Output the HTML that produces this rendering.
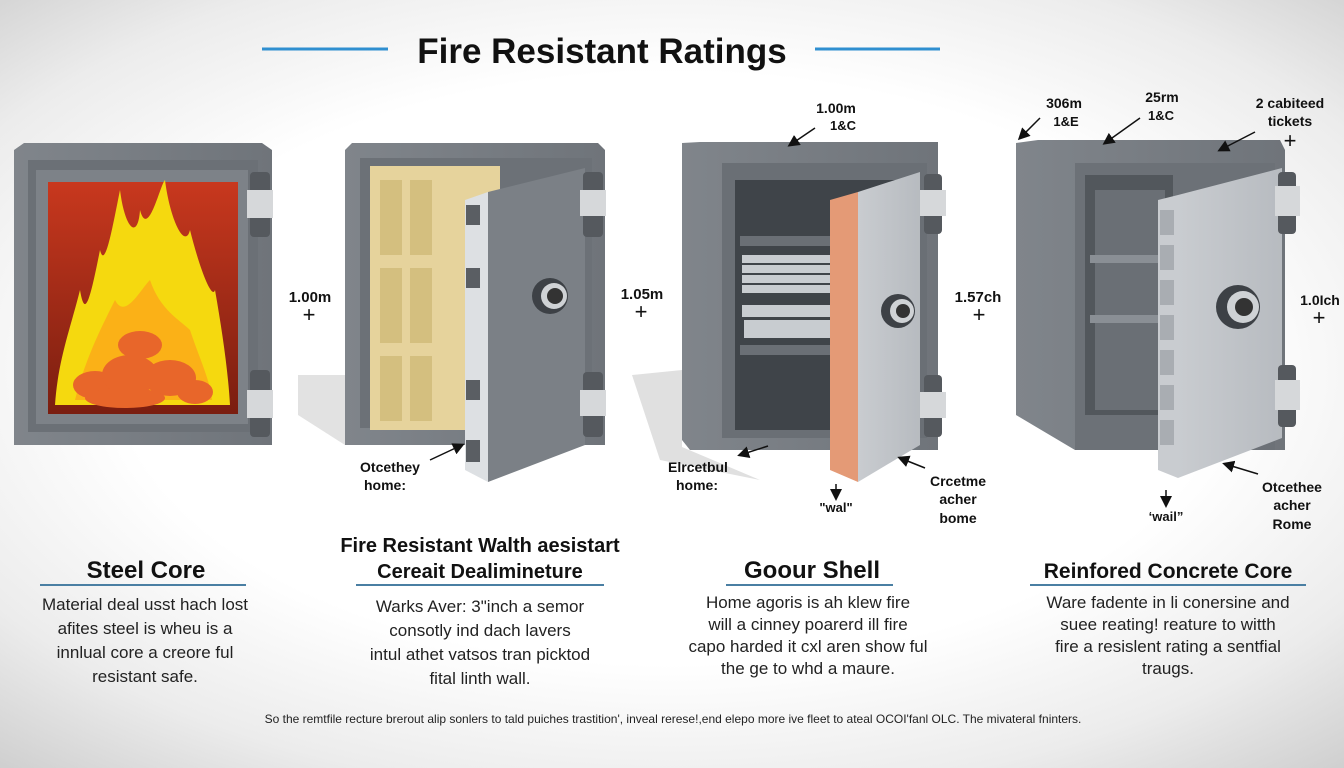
<!DOCTYPE html>
<html><head><meta charset="utf-8"><style>
html,body{margin:0;padding:0;width:1344px;height:768px;overflow:hidden}
body{background:radial-gradient(ellipse 75% 70% at 50% 48%,#ffffff 55%,#ececec 80%,#cfcfcf 100%);font-family:"Liberation Sans",sans-serif}
svg{position:absolute;left:0;top:0}
</style></head><body>
<svg width="1344" height="768" viewBox="0 0 1344 768" font-family="Liberation Sans, sans-serif">
<defs>
<linearGradient id="fire" x1="0" y1="0" x2="0" y2="1"><stop offset="0" stop-color="#c8381e"/><stop offset="1" stop-color="#7a1e10"/></linearGradient>
<linearGradient id="body" x1="0" y1="0" x2="1" y2="0"><stop offset="0" stop-color="#80858b"/><stop offset="1" stop-color="#6f747a"/></linearGradient>
<linearGradient id="door" x1="0" y1="0" x2="1" y2="0"><stop offset="0" stop-color="#c9ccd0"/><stop offset="1" stop-color="#b7bbc0"/></linearGradient>
<marker id="ah" markerWidth="8" markerHeight="8" refX="6" refY="4" orient="auto"><path d="M0,0 L8,4 L0,8 Z" fill="#111"/></marker>
</defs>
<!-- title -->
<line x1="262" y1="49" x2="388" y2="49" stroke="#2f8fd0" stroke-width="3"/>
<line x1="815" y1="49" x2="940" y2="49" stroke="#2f8fd0" stroke-width="3"/>
<text x="602" y="63" text-anchor="middle" font-size="35" font-weight="bold" fill="#111">Fire Resistant Ratings</text>

<!-- safe 1 -->
<polygon points="14,150 24,143 262,143 272,150 272,445 14,445" fill="url(#body)"/>
<rect x="28" y="160" width="230" height="272" fill="#6b7076"/>
<rect x="36" y="170" width="212" height="254" fill="#7d8288"/>
<rect x="48" y="182" width="190" height="232" fill="url(#fire)"/>
<path d="M55,405 C58,360 70,330 80,290 C85,320 90,300 100,250 C105,270 112,230 120,190 C125,230 138,240 140,210 C148,240 160,185 165,180 C170,220 185,250 190,230 C200,270 212,300 215,290 C222,330 228,370 230,405 Z" fill="#f5d90f"/>
<path d="M75,400 C85,360 100,330 115,300 C125,320 140,290 150,280 C160,310 180,320 190,330 C200,360 210,380 212,400 Z" fill="#fbb117"/>
<g fill="#e8662a">
<ellipse cx="95" cy="385" rx="22" ry="14"/><ellipse cx="130" cy="375" rx="28" ry="20"/><ellipse cx="170" cy="378" rx="26" ry="18"/><ellipse cx="195" cy="392" rx="18" ry="12"/><ellipse cx="140" cy="345" rx="22" ry="14"/><ellipse cx="125" cy="398" rx="40" ry="10"/>
</g>
<g><rect x="250" y="172" width="20" height="65" rx="4" fill="#55595e"/><rect x="247" y="190" width="26" height="28" fill="#d6d8da"/>
<rect x="250" y="370" width="20" height="67" rx="4" fill="#55595e"/><rect x="247" y="390" width="26" height="28" fill="#d6d8da"/></g>
<text x="310" y="302" text-anchor="middle" font-size="15" font-weight="bold" fill="#111">1.00m</text>
<text x="309" y="322" text-anchor="middle" font-size="22" fill="#111">+</text>

<!-- safe 2 -->
<polygon points="298,375 345,375 345,445 298,415" fill="#e2e2e2"/>
<polygon points="345,150 352,143 598,143 605,150 605,445 345,445" fill="url(#body)"/>
<rect x="360" y="158" width="232" height="270" fill="#6c7177"/>
<rect x="370" y="166" width="130" height="264" fill="#e6d39c"/>
<g fill="#d4bf7f"><rect x="380" y="180" width="22" height="75"/><rect x="410" y="180" width="22" height="75"/><rect x="380" y="268" width="22" height="75"/><rect x="410" y="268" width="22" height="75"/><rect x="380" y="356" width="22" height="65"/><rect x="410" y="356" width="22" height="65"/></g>
<polygon points="465,200 488,192 488,482 465,470" fill="#dde0e3"/>
<polygon points="488,192 585,168 585,445 488,482" fill="#7b8086"/>
<g fill="#5a5e63"><rect x="466" y="205" width="14" height="20"/><rect x="466" y="268" width="14" height="20"/><rect x="466" y="380" width="14" height="20"/><rect x="466" y="440" width="14" height="22"/></g>
<circle cx="550" cy="296" r="18" fill="#3d4146"/><circle cx="554" cy="296" r="13" fill="#cfd2d5"/><circle cx="555" cy="296" r="8" fill="#333"/>
<g><rect x="583" y="172" width="20" height="65" rx="4" fill="#55595e"/><rect x="580" y="190" width="26" height="26" fill="#d6d8da"/>
<rect x="583" y="372" width="20" height="65" rx="4" fill="#55595e"/><rect x="580" y="390" width="26" height="26" fill="#d6d8da"/></g>
<line x1="430" y1="460" x2="462" y2="445" stroke="#111" stroke-width="1.5" marker-end="url(#ah)"/>
<text x="390" y="472" text-anchor="middle" font-size="14" font-weight="bold" fill="#111">Otcethey</text>
<text x="385" y="490" text-anchor="middle" font-size="14" font-weight="bold" fill="#111">home:</text>
<text x="642" y="299" text-anchor="middle" font-size="15" font-weight="bold" fill="#111">1.05m</text>
<text x="641" y="319" text-anchor="middle" font-size="22" fill="#111">+</text>

<!-- safe 3 -->
<polygon points="632,375 682,370 682,447 760,480 660,460" fill="#e0e0e0"/>
<polygon points="682,143 700,142 938,142 938,450 690,450 682,440" fill="url(#body)"/>
<rect x="722" y="163" width="205" height="275" fill="#6a6f75"/>
<rect x="735" y="180" width="180" height="250" fill="#3f4449"/>
<rect x="740" y="236" width="100" height="10" fill="#6a6f75"/>
<rect x="740" y="345" width="100" height="10" fill="#6a6f75"/>
<g fill="#c8ccd0"><rect x="742" y="255" width="92" height="8"/><rect x="742" y="265" width="92" height="8"/><rect x="742" y="275" width="92" height="8"/><rect x="742" y="285" width="92" height="8"/><rect x="742" y="305" width="92" height="12"/><rect x="744" y="320" width="90" height="18"/></g>
<polygon points="830,200 858,192 858,482 830,470" fill="#e49a76"/>
<polygon points="858,192 920,172 920,445 858,482" fill="url(#door)"/>
<circle cx="898" cy="311" r="17" fill="#3d4146"/><circle cx="902" cy="311" r="12" fill="#cfd2d5"/><circle cx="903" cy="311" r="7" fill="#333"/>
<g><rect x="924" y="174" width="18" height="60" rx="4" fill="#55595e"/><rect x="920" y="190" width="26" height="26" fill="#d6d8da"/>
<rect x="924" y="375" width="18" height="62" rx="4" fill="#55595e"/><rect x="920" y="392" width="26" height="26" fill="#d6d8da"/></g>
<text x="836" y="113" text-anchor="middle" font-size="14" font-weight="bold" fill="#111">1.00m</text>
<text x="843" y="130" text-anchor="middle" font-size="13" font-weight="bold" fill="#111">1&amp;C</text>
<line x1="815" y1="128" x2="790" y2="145" stroke="#111" stroke-width="1.5" marker-end="url(#ah)"/>
<line x1="768" y1="446" x2="740" y2="455" stroke="#111" stroke-width="1.5" marker-end="url(#ah)"/>
<text x="698" y="472" text-anchor="middle" font-size="14" font-weight="bold" fill="#111">Elrcetbul</text>
<text x="697" y="490" text-anchor="middle" font-size="14" font-weight="bold" fill="#111">home:</text>
<line x1="836" y1="484" x2="836" y2="498" stroke="#111" stroke-width="1.5" marker-end="url(#ah)"/>
<text x="836" y="512" text-anchor="middle" font-size="13" font-weight="bold" fill="#111">"wal"</text>
<line x1="925" y1="468" x2="900" y2="458" stroke="#111" stroke-width="1.5" marker-end="url(#ah)"/>
<text x="958" y="486" text-anchor="middle" font-size="14" font-weight="bold" fill="#111">Crcetme</text>
<text x="958" y="504" text-anchor="middle" font-size="14" font-weight="bold" fill="#111">acher</text>
<text x="958" y="523" text-anchor="middle" font-size="14" font-weight="bold" fill="#111">bome</text>
<text x="978" y="302" text-anchor="middle" font-size="15" font-weight="bold" fill="#111">1.57ch</text>
<text x="979" y="322" text-anchor="middle" font-size="22" fill="#111">+</text>

<!-- safe 4 -->
<polygon points="1016,143 1038,140 1280,140 1285,150 1285,450 1075,450 1016,415" fill="url(#body)"/>
<rect x="1075" y="163" width="200" height="287" fill="#6c7177"/>
<rect x="1085" y="175" width="88" height="240" fill="#52575c"/>
<rect x="1095" y="190" width="70" height="220" fill="#6a6f75"/>
<rect x="1090" y="255" width="70" height="8" fill="#8a8f95"/><rect x="1090" y="315" width="70" height="8" fill="#8a8f95"/>
<polygon points="1158,200 1178,195 1178,478 1158,470" fill="#c9ccd0"/>
<g fill="#a9adb2"><rect x="1160" y="210" width="14" height="25"/><rect x="1160" y="245" width="14" height="25"/><rect x="1160" y="280" width="14" height="25"/><rect x="1160" y="315" width="14" height="25"/><rect x="1160" y="350" width="14" height="25"/><rect x="1160" y="385" width="14" height="25"/><rect x="1160" y="420" width="14" height="25"/></g>
<polygon points="1178,195 1282,168 1282,438 1178,478" fill="url(#door)"/>
<circle cx="1238" cy="307" r="22" fill="#3d4146"/><circle cx="1243" cy="307" r="16" fill="#cfd2d5"/><circle cx="1244" cy="307" r="9" fill="#333"/>
<g><rect x="1278" y="172" width="18" height="62" rx="4" fill="#55595e"/><rect x="1275" y="186" width="25" height="30" fill="#d6d8da"/>
<rect x="1278" y="365" width="18" height="62" rx="4" fill="#55595e"/><rect x="1275" y="380" width="25" height="30" fill="#d6d8da"/></g>
<text x="1064" y="108" text-anchor="middle" font-size="14" font-weight="bold" fill="#111">306m</text>
<text x="1066" y="126" text-anchor="middle" font-size="13" font-weight="bold" fill="#111">1&amp;E</text>
<line x1="1040" y1="118" x2="1020" y2="138" stroke="#111" stroke-width="1.5" marker-end="url(#ah)"/>
<text x="1162" y="102" text-anchor="middle" font-size="14" font-weight="bold" fill="#111">25rm</text>
<text x="1161" y="120" text-anchor="middle" font-size="13" font-weight="bold" fill="#111">1&amp;C</text>
<line x1="1140" y1="118" x2="1105" y2="143" stroke="#111" stroke-width="1.5" marker-end="url(#ah)"/>
<text x="1290" y="108" text-anchor="middle" font-size="14" font-weight="bold" fill="#111">2 cabiteed</text>
<text x="1290" y="126" text-anchor="middle" font-size="14" font-weight="bold" fill="#111">tickets</text>
<text x="1290" y="148" text-anchor="middle" font-size="22" fill="#111">+</text>
<line x1="1255" y1="132" x2="1220" y2="150" stroke="#111" stroke-width="1.5" marker-end="url(#ah)"/>
<text x="1320" y="305" text-anchor="middle" font-size="14" font-weight="bold" fill="#111">1.0Ich</text>
<text x="1319" y="325" text-anchor="middle" font-size="22" fill="#111">+</text>
<line x1="1166" y1="490" x2="1166" y2="505" stroke="#111" stroke-width="1.5" marker-end="url(#ah)"/>
<text x="1166" y="521" text-anchor="middle" font-size="13" font-weight="bold" fill="#111">‘wail”</text>
<line x1="1258" y1="474" x2="1225" y2="464" stroke="#111" stroke-width="1.5" marker-end="url(#ah)"/>
<text x="1292" y="492" text-anchor="middle" font-size="14" font-weight="bold" fill="#111">Otcethee</text>
<text x="1292" y="510" text-anchor="middle" font-size="14" font-weight="bold" fill="#111">acher</text>
<text x="1292" y="529" text-anchor="middle" font-size="14" font-weight="bold" fill="#111">Rome</text>

<!-- bottom headings -->
<g font-weight="bold" fill="#111" text-anchor="middle">
<text x="146" y="578" font-size="24">Steel Core</text>
<text x="480" y="552" font-size="20">Fire Resistant Walth aesistart</text>
<text x="480" y="578" font-size="20">Cereait Dealimineture</text>
<text x="812" y="578" font-size="24">Goour Shell</text>
<text x="1168" y="578" font-size="21">Reinfored Concrete Core</text>
</g>
<g stroke="#4a7fa3" stroke-width="2">
<line x1="40" y1="585" x2="246" y2="585"/><line x1="356" y1="585" x2="604" y2="585"/>
<line x1="726" y1="585" x2="893" y2="585"/><line x1="1030" y1="585" x2="1306" y2="585"/>
</g>
<g font-size="17" fill="#222" text-anchor="middle">
<text x="145" y="610">Material deal usst hach lost</text>
<text x="145" y="634">afites steel is wheu is a</text>
<text x="145" y="658">innlual core a creore ful</text>
<text x="145" y="682">resistant safe.</text>
<text x="480" y="612">Warks Aver: 3"inch a semor</text>
<text x="480" y="636">consotly ind dach lavers</text>
<text x="480" y="660">intul athet vatsos tran picktod</text>
<text x="480" y="684">fital linth wall.</text>
<text x="808" y="608">Home agoris is ah klew fire</text>
<text x="808" y="630">will a cinney poarerd ill fire</text>
<text x="808" y="652">capo harded it cxl aren show ful</text>
<text x="808" y="674">the ge to whd a maure.</text>
<text x="1168" y="608">Ware fadente in li conersine and</text>
<text x="1168" y="630">suee reating! reature to witth</text>
<text x="1168" y="652">fire a resislent rating a sentfial</text>
<text x="1168" y="674">traugs.</text>
</g>
<text x="673" y="723" text-anchor="middle" font-size="12" fill="#222">So the remtfile recture brerout alip sonlers to tald puiches trastition', inveal rerese!,end elepo more ive fleet to ateal OCOI'fanl OLC. The mivateral fninters.</text>
</svg>
</body></html>
